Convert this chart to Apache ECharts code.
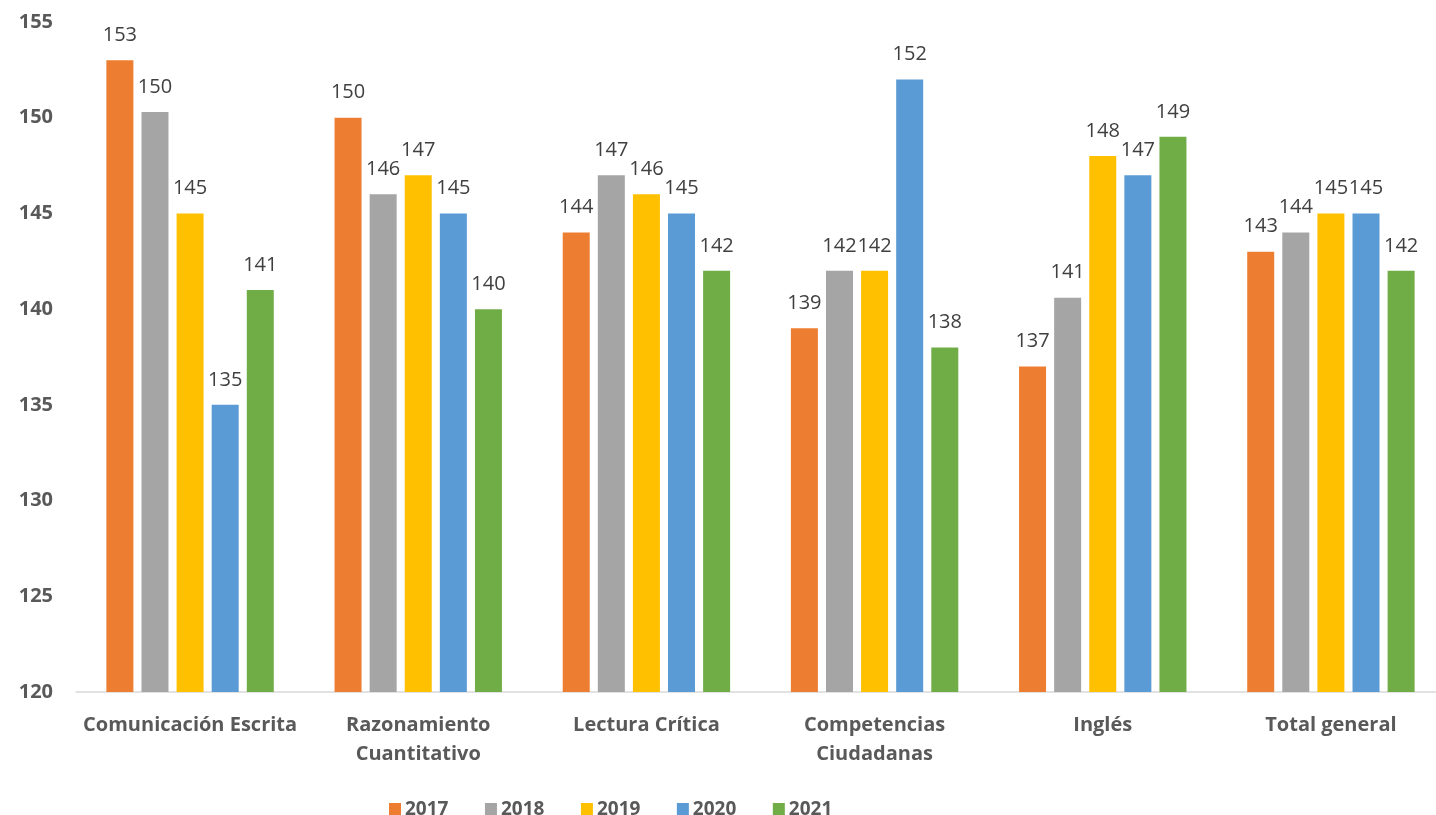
<!DOCTYPE html>
<html>
<head>
<meta charset="utf-8">
<script src="https://cdn.jsdelivr.net/npm/echarts@6/dist/echarts.min.js"></script>
<style>
html,body{margin:0;padding:0;background:#ffffff;overflow:hidden;}
#chart{width:1450px;height:815px;}
</style>
</head>
<body>
<div id="chart"></div>
<script>
const categories = ["Comunicación Escrita", "Razonamiento\nCuantitativo", "Lectura Crítica", "Competencias\nCiudadanas", "Inglés", "Total general"];
const years = ["2017", "2018", "2019", "2020", "2021"];
const v2017 = [153, 150, 144, 139, 137, 143];
const v2018 = [150.3, 146, 147, 142, 140.6, 144];
const v2019 = [145, 147, 146, 142, 148, 145];
const v2020 = [135, 145, 145, 152, 147, 145];
const v2021 = [141, 140, 142, 138, 149, 142];
const yTicks = [120, 125, 130, 135, 140, 145, 150, 155];

const colors = ["#ED7D31", "#A5A5A5", "#FFC000", "#5B9BD5", "#70AD47"];
const seriesValues = [v2017, v2018, v2019, v2020, v2021];
const font = "'Open Sans', 'Liberation Sans', sans-serif";

const chart = echarts.init(document.getElementById('chart'));
chart.setOption({
  backgroundColor: '#ffffff',
  animation: false,
  color: colors,
  grid: { left: 76, top: 22, width: 1369, height: 670, containLabel: false },
  legend: {
    data: years,
    left: 384,
    top: 795,
    itemWidth: 12,
    itemHeight: 13,
    itemGap: 36.5,
    icon: 'rect',
    textStyle: { color: '#595959', fontSize: 19, fontWeight: 'bold', fontFamily: font, padding: [0, 0, 0, -1] }
  },
  xAxis: {
    type: 'category',
    data: categories,
    axisLine: { lineStyle: { color: '#D9D9D9', width: 1.5 } },
    axisTick: { show: false },
    axisLabel: { color: '#595959', fontSize: 20, fontWeight: 'bold', fontFamily: font, margin: 19, lineHeight: 29, interval: 0 }
  },
  yAxis: {
    type: 'value',
    min: yTicks[0],
    max: yTicks[yTicks.length - 1],
    interval: 5,
    axisLine: { show: false },
    axisTick: { show: false },
    splitLine: { show: false },
    axisLabel: { color: '#595959', fontSize: 20, fontWeight: 'bold', fontFamily: font, margin: 23 }
  },
  series: years.map((y, i) => ({
    name: y,
    type: 'bar',
    data: seriesValues[i],
    barWidth: 27,
    barGap: '30%',
    label: {
      show: true,
      position: 'top',
      distance: 15,
      color: '#404040',
      fontSize: 20,
      fontFamily: font,
      formatter: p => Math.round(p.value)
    }
  }))
});
</script>
</body>
</html>
